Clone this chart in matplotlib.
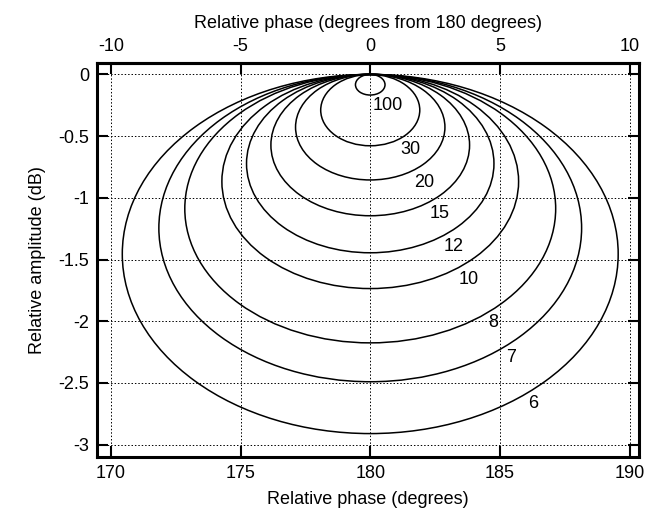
import numpy as np
import matplotlib
matplotlib.use('Agg')
import matplotlib.pyplot as plt
from matplotlib.patches import Ellipse

plt.rcParams['font.family'] = ['Liberation Sans', 'DejaVu Sans']
plt.rcParams['axes.unicode_minus'] = False

# contour values (ratio)
ratios = ['6', '7', '8', '10', '12', '15', '20', '30', '100']
# depth of each contour at 180 degrees (dB, bottom of the curve)
depth_db = [2.91, 2.49, 2.175, 1.735, 1.445, 1.145, 0.855, 0.578, 0.167]
# half width of each contour in phase (degrees)
half_width = [9.56, 8.15, 7.15, 5.72, 4.77, 3.83, 2.88, 1.91, 0.57]
# where the numbers sit
label_x = [186.30, 185.42, 184.76, 183.78, 183.21, 182.66, 182.08, 181.53, 180.66]
label_y = [-2.665, -2.29, -2.01, -1.66, -1.395, -1.13, -0.876, -0.605, -0.25]

center_phase = 180.0
fs = 13

fig = plt.figure(figsize=(6.45, 5.17), dpi=100)
ax = fig.add_axes([0.151, 0.116, 0.840, 0.762])

for r, d, hw in zip(ratios, depth_db, half_width):
    e = Ellipse((center_phase, -d / 2), width=2 * hw, height=d,
                fill=False, edgecolor='black', linewidth=1.1)
    ax.add_patch(e)

for r, lx, ly in zip(ratios, label_x, label_y):
    ax.text(lx, ly, r, fontsize=fs, ha='center', va='center')

ax.set_xlim(169.48, 190.37)
ax.set_ylim(-3.1, 0.092)
ax.set_xticks([170, 175, 180, 185, 190])
ax.set_xticklabels(['170', '175', '180', '185', '190'])
ax.set_yticks([0, -0.5, -1, -1.5, -2, -2.5, -3])
ax.set_yticklabels(['0', '-0.5', '-1', '-1.5', '-2', '-2.5', '-3'])

ax.grid(True, color='black', linestyle=(0, (1.5, 2)), linewidth=0.7)
ax.tick_params(direction='in', length=8, width=1.5, labelsize=fs,
               top=False, right=True, pad=6)
for s in ax.spines.values():
    s.set_linewidth(2.2)

ax.set_xlabel('Relative phase (degrees)', fontsize=fs, labelpad=6)
ax.set_ylabel('Relative amplitude (dB)', fontsize=fs, labelpad=9)

top = ax.secondary_xaxis('top', functions=(lambda x: x - 180, lambda x: x + 180))
top.set_xticks([-10, -5, 0, 5, 10])
top.set_xticklabels(['-10', '-5', '0', '5', '10'])
top.tick_params(direction='in', length=8, width=1.5, labelsize=fs, pad=6)
top.spines['top'].set_linewidth(2.2)
top.set_xlabel('Relative phase (degrees from 180 degrees)', fontsize=fs, labelpad=7)

fig.savefig('out.png', dpi=100)
